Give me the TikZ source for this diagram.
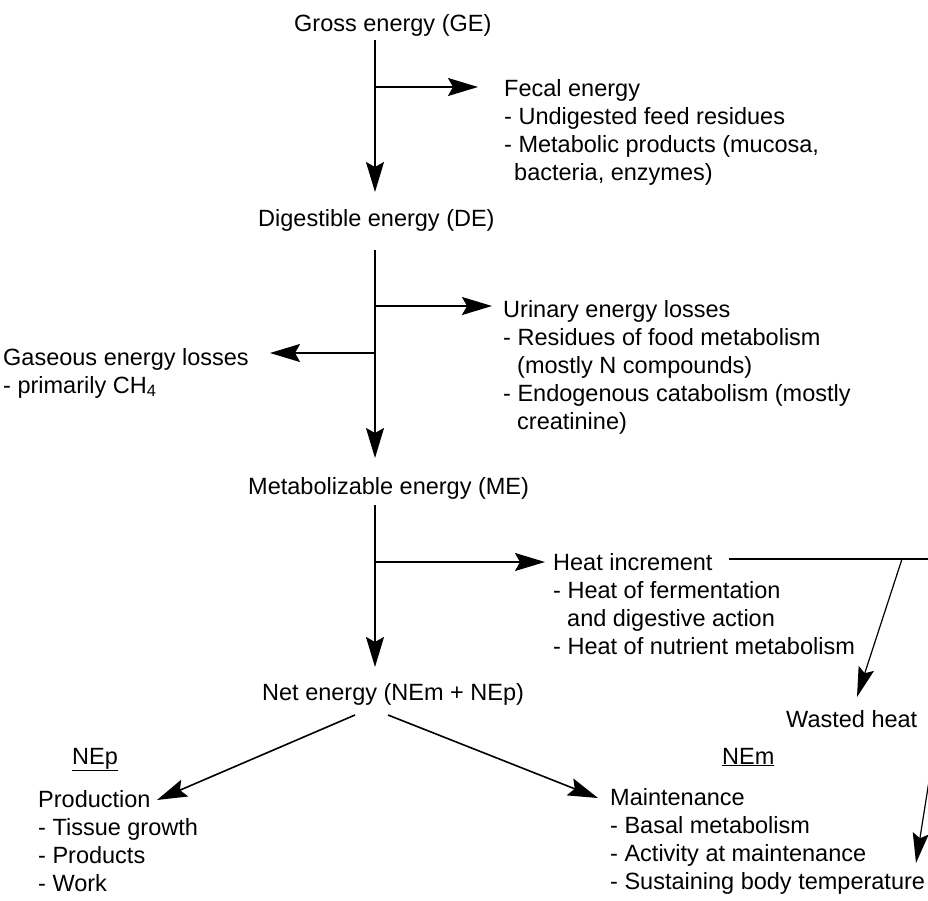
\documentclass[tikz,border=0pt]{standalone}
\usepackage{fontspec}
\setmainfont{Liberation Sans}
\usetikzlibrary{arrows.meta}
\begin{document}
\begin{tikzpicture}[x=1pt,y=-1pt,
  txt/.style={font=\fontsize{23.5}{28}\selectfont, inner sep=0pt, anchor=base west, align=left},
  arr/.style={line width=1.6pt, -{Stealth[length=30pt,width=18pt,inset=5pt]}},
  thinarr/.style={line width=1.2pt, -{Stealth[length=30pt,width=16pt,inset=5pt]}},
  thinln/.style={line width=1.2pt}]
\useasboundingbox (0,0) rectangle (928,901);

% texts (anchor = baseline of the last line)
\node[txt] (GE) at (294,32) {Gross energy (GE)};
\node[txt] (fecal) at (504,181) {Fecal energy\\- Undigested feed residues\\- Metabolic products (mucosa,\\\hspace*{10pt}bacteria, enzymes)};
\node[txt] (DE) at (258,227) {Digestible energy (DE)};
\node[txt] (urin) at (503,429) {Urinary energy losses\\- Residues of food metabolism\\\hspace*{14pt}(mostly N compounds)\\- Endogenous catabolism (mostly\\\hspace*{14pt}creatinine)};
\node[txt] (gas) at (3,393) {Gaseous energy losses\\- primarily CH\textsubscript{4}};
\node[txt] (ME) at (248,494) {Metabolizable energy (ME)};
\node[txt] (heat) at (553,654) {Heat increment\\- Heat of fermentation\\\hspace*{14pt}and digestive action\\- Heat of nutrient metabolism};
\node[txt] (waste) at (786,727) {Wasted heat};
\node[txt] (NE) at (262,700) {Net energy (NEm + NEp)};
\node[txt] (NEp) at (72,764) {\underline{NEp}};
\node[txt] (NEm) at (722,764) {\underline{NEm}};
\node[txt] (prod) at (38,891) {Production\\- Tissue growth\\- Products\\- Work};
\node[txt] (maint) at (610,889) {Maintenance\\- Basal metabolism\\- Activity at maintenance\\- Sustaining body temperature};

% connector end points
\coordinate (geout) at (375,40);   \coordinate (dein) at (375,192);
\coordinate (jf) at (375,87);      \coordinate (fin) at (478,87);
\coordinate (deout) at (375,250);  \coordinate (mein) at (375,458);
\coordinate (ju) at (375,306);     \coordinate (uin) at (492,306);
\coordinate (jg) at (375,353);     \coordinate (gin) at (270,353);
\coordinate (meout) at (375,505);  \coordinate (nein) at (375,667);
\coordinate (jh) at (375,562);     \coordinate (hin) at (545,562);
\coordinate (hout) at (729,559);   \coordinate (hedge) at (929,559);
\coordinate (jw) at (902,559);     \coordinate (win) at (857,697);
\coordinate (redge) at (929,781);  \coordinate (min2) at (916,863);
\coordinate (npout) at (355,715);  \coordinate (pin) at (157,800);
\coordinate (nmout) at (388,715);  \coordinate (main) at (598,798);

% connectors
\draw[arr] (geout) -- (dein);
\draw[arr] (jf) -- (fin);
\draw[arr] (deout) -- (mein);
\draw[arr] (ju) -- (uin);
\draw[arr] (jg) -- (gin);
\draw[arr] (meout) -- (nein);
\draw[arr] (jh) -- (hin);
\draw[thinln] (hout) -- (hedge);
\draw[thinarr] (jw) -- (win);
\draw[thinarr] (redge) -- (min2);
\draw[arr] (npout) -- (pin);
\draw[arr] (nmout) -- (main);
\end{tikzpicture}
\end{document}
